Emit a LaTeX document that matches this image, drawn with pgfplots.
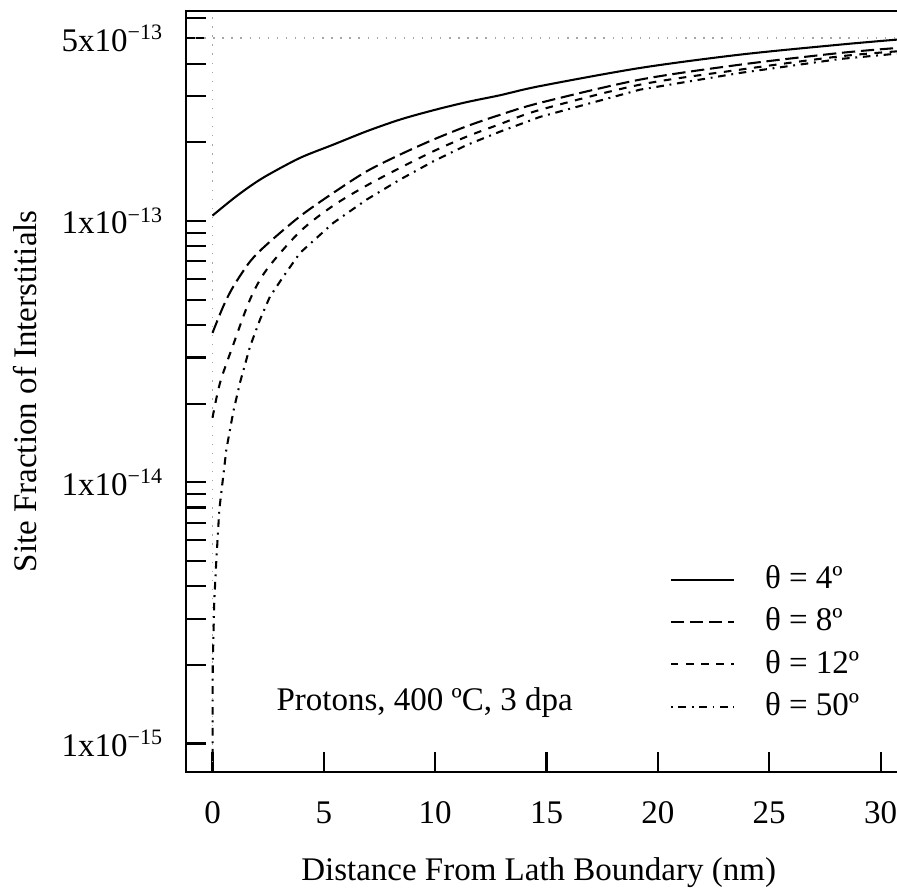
\documentclass[border=0pt,12pt]{standalone}
\usepackage{fontspec}
\setmainfont{Liberation Serif}
\usepackage{pgfplots}
\usetikzlibrary{calc}
\pgfplotsset{compat=1.18}
\pgfplotstableread{
x y
0 1.048e-13
0.935 1.217e-13
1.684 1.356e-13
2.434 1.490e-13
3.929 1.742e-13
5.424 1.958e-13
6.92 2.202e-13
8.42 2.441e-13
9.915 2.650e-13
11.41 2.847e-13
12.91 3.025e-13
14.71 3.28e-13
19.20 3.848e-13
23.69 4.327e-13
28.18 4.726e-13
30.74 4.939e-13
}\tfour
\pgfplotstableread{
x y
0 3.728e-14
0.485 4.712e-14
0.935 5.607e-14
1.684 6.987e-14
2.434 8.115e-14
3.929 1.041e-13
5.424 1.280e-13
6.92 1.547e-13
8.42 1.793e-13
9.915 2.046e-13
11.41 2.301e-13
12.91 2.545e-13
14.71 2.83e-13
19.20 3.472e-13
23.69 3.961e-13
28.18 4.391e-13
30.74 4.588e-13
}\teight
\pgfplotstableread{
x y
0 1.764e-14
0.337 2.399e-14
0.935 3.364e-14
1.684 5.0e-14
2.434 6.511e-14
3.929 9.10e-14
5.424 1.144e-13
6.92 1.365e-13
8.42 1.595e-13
9.915 1.846e-13
11.41 2.100e-13
12.91 2.345e-13
14.71 2.66e-13
19.20 3.321e-13
23.69 3.791e-13
28.18 4.262e-13
30.74 4.454e-13
}\ttwelve
\pgfplotstableread{
x y
0 4e-16
0.01 1.97e-15
0.081 3.548e-15
0.157 4.759e-15
0.305 7.84e-15
0.62 1.33e-14
0.935 1.865e-14
1.235 2.405e-14
1.684 3.305e-14
2.133 4.19e-14
2.58 5.133e-14
3.18 6.12e-14
3.929 7.542e-14
5.424 9.825e-14
6.92 1.206e-13
8.42 1.439e-13
9.915 1.690e-13
11.41 1.950e-13
12.91 2.195e-13
14.71 2.50e-13
19.20 3.179e-13
23.69 3.683e-13
28.18 4.165e-13
30.74 4.365e-13
}\tfifty
\begin{document}
\begin{tikzpicture}
\begin{axis}[
  scale only axis,
  width=258.55pt, height=276.73pt,
  xmin=-1.19, xmax=30.74,
  ymode=log, ymin=7.8e-16, ymax=6.37e-13,
  axis line style={draw=none},
  tick align=inside,
  xtick pos=left, ytick pos=left,
  major tick length=7.3pt, minor tick length=7.3pt,
  tick style={black, line width=0.75pt},
  xtick={0,5,10,15,20,25,30},
  /pgf/number format/assume math mode=true,
  xticklabel style={yshift=-6.6pt},
  ytick={1e-15,1e-14,1e-13,5e-13},
  yticklabels={1x10\textsuperscript{−15},1x10\textsuperscript{−14},1x10\textsuperscript{−13},5x10\textsuperscript{−13}},
  minor ytick={2e-15,3e-15,4e-15,5e-15,6e-15,7e-15,8e-15,9e-15,2e-14,3e-14,4e-14,5e-14,6e-14,7e-14,8e-14,9e-14,2e-13,3e-13,4e-13,6e-13},
  yticklabel style={xshift=-4.0pt},
  extra x ticks={0}, extra x tick labels={},
  extra y ticks={5e-13}, extra y tick labels={},
  extra tick style={grid=major, major tick length=0pt},
  major grid style={gray!70, line width=0.6pt, dash pattern=on 0.5pt off 2.8pt},
  xlabel={Distance From Lath Boundary (nm)},
  ylabel={Site Fraction of Interstitials},
  every axis x label/.style={at={(axis description cs:0.496,-0.1423)}, anchor=base},
  every axis y label/.style={at={(axis description cs:-0.2264,0.5)}, rotate=90, anchor=center},
  legend cell align=left,
  legend image code/.code={\draw[#1] (0pt,0pt) -- (23pt,0pt);},
  legend style={draw=none, fill=none, inner sep=0pt, row sep=0.9pt,
    at={(axis description cs:0.6796,0.2793)}, anchor=north west,
    nodes={inner sep=2pt, text height=8.5pt, text depth=2pt},
    /tikz/every odd column/.style={column sep=8.9pt}},
]
\addplot[black, line width=0.75pt, smooth, tension=0.5] table {\tfour};
\addlegendentry{θ = 4º}
\addplot[black, line width=0.75pt, smooth, tension=0.5, dash pattern=on 4.84pt off 2.07pt] table {\teight};
\addlegendentry{θ = 8º}
\addplot[black, line width=0.75pt, smooth, tension=0.5, dash pattern=on 2.76pt off 2.76pt] table {\ttwelve};
\addlegendentry{θ = 12º}
\addplot[black, line width=0.75pt, dash pattern=on 0.69pt off 2.07pt on 2.76pt off 2.07pt] table {\tfifty};
\addlegendentry{θ = 50º}
\coordinate (ll) at (rel axis cs:0,0);
\coordinate (ur) at (rel axis cs:1,1);
\end{axis}
\draw[line width=0.75pt] (ur) -- (ll |- ur) -- (ll) -- (ur |- ll);
\node[anchor=base west, inner sep=0pt] at ($(ll)+(0.1266*258.55pt, 0.0798*276.73pt)$) {Protons, 400 ºC, 3 dpa};
\pgfresetboundingbox
\path ([shift={(-67.64pt,-45.2pt)}]ll) rectangle ([shift={(0pt,3.89pt)}]ur);
\end{tikzpicture}
\end{document}
